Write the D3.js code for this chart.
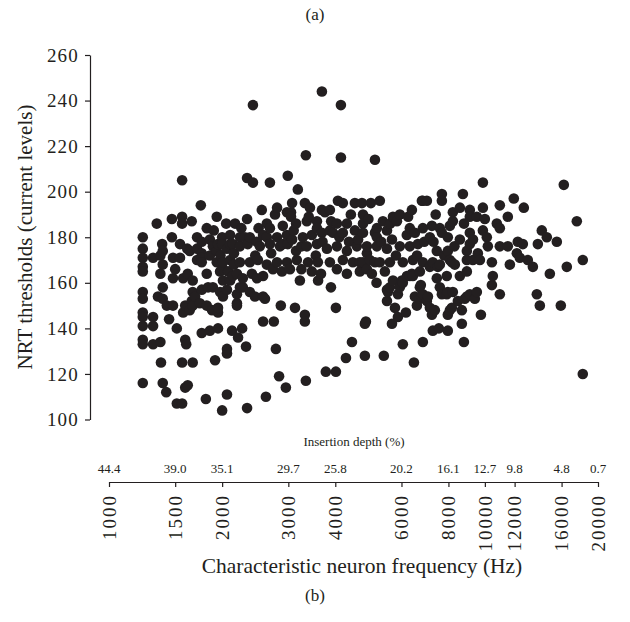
<!DOCTYPE html>
<html><head><meta charset="utf-8">
<script src="https://cdn.jsdelivr.net/npm/d3@7"></script>
<style>body{margin:0;background:#fff}</style>
</head><body>
<svg id="c" width="630" height="622"></svg>
<script>
const freqTicks = [1000,1500,2000,3000,4000,6000,8000,10000,12000,16000,20000];
const depthLabels = ["44.4","39.0","35.1","29.7","25.8","20.2","16.1","12.7","9.8","4.8","0.7"];
const yTicks = [100,120,140,160,180,200,220,240,260];
// [characteristic frequency (Hz), NRT threshold (current level)]
const points = [
[1230,180],[1230,175],[1230,171],[1230,167],[1230,165],[1230,156],[1230,153],[1230,147],[1230,145],[1230,141],[1230,135],[1230,133],[1230,116],
[1310,171],[1310,145],[1310,141],[1310,133],
[1340,186],[1350,154],[1370,164],[1370,172],[1370,134],[1375,125],[1385,177],
[1390,174],[1390,168],[1390,158],[1390,153],[1390,116],[1420,112],[1425,150],[1445,144],
[1470,188],[1470,180],[1480,150],[1480,162],[1480,171],[1500,166],[1515,140],[1515,107],
[1545,177],[1545,171],[1565,189],[1565,186],[1565,205],[1565,125],[1565,107],
[1575,162],[1575,147],[1595,135],[1595,114],[1595,150],[1605,133],[1615,175],[1620,164],[1620,115],
[1640,174],[1640,148],[1660,187],[1660,152],[1670,125],[1670,161],[1670,156],[1670,150],
[1695,154],[1715,180],[1715,175],[1715,170],[1745,151],[1755,194],
[1765,178],[1765,173],[1765,171],[1765,157],[1765,138],[1765,169],
[1810,109],[1820,184],[1820,164],[1820,150],[1835,158],
[1855,179],[1855,139],[1855,172],
[1880,148],[1890,176],[1890,158],[1900,183],[1915,126],[1935,189],[1935,174],[1935,169],
[1950,140],[1950,147],[1950,149],[1950,177],[1975,156],[1975,165],[1980,172],
[2000,104],[2000,180],[2000,177],[2010,154],[2010,166],[2010,169],[2010,161],
[2050,186],[2060,111],[2060,129],[2060,131],[2060,175],[2060,157],[2075,165],
[2100,161],[2100,181],[2100,177],[2100,170],
[2125,139],[2135,163],[2135,177],[2150,173],[2150,168],[2165,186],
[2190,155],[2190,151],[2190,150],[2190,164],[2205,136],
[2230,158],[2230,180],[2230,176],[2230,169],[2250,184],[2260,140],[2270,158],[2270,162],
[2300,180],[2315,132],[2330,105],[2330,206],[2330,188],[2340,177],
[2370,156],[2370,180],[2370,169],[2400,164],[2415,238],[2415,204],[2445,154],[2450,172],
[2475,178],[2475,162],[2490,170],[2500,184],[2520,176],[2550,192],
[2570,143],[2570,154],[2570,181],[2570,163],[2600,153],[2615,110],
[2630,186],[2630,180],[2630,168],[2680,204],[2680,184],[2680,177],[2700,173],[2730,166],[2745,143],
[2765,190],[2780,131],[2800,193],[2800,180],[2800,169],[2835,119],[2850,176],[2865,150],[2885,165],
[2900,185],[2905,177],[2955,114],[2975,191],[2975,181],[2975,169],[2990,207],[2990,177],[3030,166],
[3050,191],[3050,189],[3070,195],[3070,179],[3100,183],[3125,149],[3145,186],[3145,174],[3160,170],[3180,201],[3220,161],
[3250,176],[3250,166],[3280,180],[3320,195],[3320,146],[3320,143],[3340,216],[3340,117],[3360,187],[3360,176],[3385,169],
[3400,189],[3425,193],[3465,181],[3465,165],[3550,172],[3575,187],[3575,184],[3575,177],[3595,169],[3600,161],[3665,164],
[3685,244],[3685,192],[3685,182],[3700,178],[3755,191],[3775,121],[3800,175],
[3870,192],[3870,183],[3870,169],[3895,158],[3900,187],[3945,182],[4015,121],[4015,149],
[4040,186],[4040,176],[4040,166],[4065,196],[4100,180],[4140,238],[4140,215],
[4190,195],[4190,182],[4190,170],[4270,127],[4295,186],[4295,174],[4295,164],[4350,178],[4400,190],[4430,134],[4455,169],
[4510,195],[4510,183],[4565,176],[4600,179],[4650,165],[4650,169],[4710,195],
[4740,190],[4740,186],[4740,182],[4740,169],[4795,128],[4795,142],[4825,143],
[4855,173],[4855,176],[4855,166],[4900,188],[4945,170],[4975,195],[5005,164],
[5100,214],[5100,169],[5100,182],[5150,160],[5160,184],[5160,180],[5160,176],
[5255,196],[5255,169],[5300,178],[5355,187],[5385,128],[5420,165],
[5490,183],[5490,175],[5490,157],[5490,152],[5520,156],[5590,169],[5590,158],[5600,186],
[5660,179],[5660,142],[5695,189],[5695,161],[5765,149],[5800,172],[5835,187],[5870,155],[5870,145],
[5940,190],[5940,176],[5940,158],[6015,161],[6050,133],[6050,169],[6050,160],[6165,147],[6200,181],[6205,163],[6250,189],
[6315,184],[6315,176],[6315,163],[6395,192],[6395,164],[6435,170],[6435,163],[6475,125],
[6515,182],[6515,154],[6595,150],[6600,172],[6635,177],[6715,153],[6715,165],[6715,158],[6755,159],
[6800,196],[6800,154],[6840,196],[6840,184],[6840,169],[6840,134],[6840,155],[6900,178],
[7010,196],[7010,152],[7055,154],[7140,180],[7140,167],[7140,149],[7230,185],[7230,146],
[7270,169],[7270,139],[7300,178],[7360,148],[7400,190],[7450,174],[7450,162],[7500,167],[7545,140],
[7590,184],[7590,168],[7590,158],[7685,199],[7685,196],[7685,182],[7685,155],[7800,172],
[7920,163],[7920,155],[7970,180],[7970,174],[7970,139],[7970,146],[7970,156],
[8070,185],[8070,148],[8070,170],[8170,169],[8170,149],[8220,191],[8220,187],[8220,156],
[8300,176],[8320,168],[8475,152],[8580,193],[8580,179],[8580,163],[8685,142],[8685,148],
[8740,199],[8795,134],[8800,186],[8845,153],[8955,174],[8955,170],[8955,165],[8955,154],
[9120,192],[9120,189],[9120,182],[9120,177],[9120,155],[9290,170],[9300,179],[9405,153],
[9520,189],[9520,156],[9580,173],[9700,170],[9760,146],[9880,204],[9880,193],[9880,183],
[10000,188],[10120,180],[10185,176],[10440,169],[10440,159],[10500,163],[10760,186],
[10960,194],[10960,184],[10960,176],[10960,155],[11510,189],[11510,176],[11655,168],
[11940,197],[12165,173],[12235,178],[12390,171],[12620,177],[12695,193],[13010,170],[13420,167],
[13750,155],[13835,177],[14005,150],[14175,183],[14615,180],[14890,164],[15540,178],[15925,150],
[16220,203],[16520,167],[17565,187],[18220,170],[18220,120]
];

const ink = "#231f20";
const serif = "'Liberation Serif', 'DejaVu Serif', serif";
const svg = d3.select("#c").style("font-family", serif);

const x = d3.scaleLog().domain([1000, 20000]).range([109, 598]);
const y = d3.scaleLinear().domain([100, 260]).range([419.5, 55]);

// Y axis
const yAxis = svg.append("g").attr("transform", "translate(90,0)")
  .call(d3.axisLeft(y).tickValues(yTicks).tickSize(5).tickSizeOuter(0).tickPadding(6).tickFormat(d3.format("d")));
yAxis.selectAll("path,line").attr("stroke", ink).attr("stroke-width", 1.2);
yAxis.selectAll("text").attr("fill", ink).style("font-family", serif)
  .style("font-size", "19px").style("letter-spacing", "1.2px");

svg.append("text").attr("transform", "translate(25,237) rotate(-90)")
  .attr("text-anchor", "middle").attr("dy", "0.35em").attr("fill", ink)
  .style("font-size", "21px").text("NRT thresholds (current levels)");

// X axis
const xAxis = svg.append("g").attr("transform", "translate(0,482)")
  .call(d3.axisBottom(x).tickValues(freqTicks).tickSize(5).tickSizeOuter(0).tickFormat(""));
xAxis.selectAll("path,line").attr("stroke", ink).attr("stroke-width", 1.2);

svg.append("g").selectAll("text").data(freqTicks).join("text")
  .attr("transform", d => `translate(${x(d)},494) rotate(-90)`)
  .attr("text-anchor", "end").attr("dy", "0.35em").attr("fill", ink)
  .style("font-size", "19px").style("letter-spacing", "2px").text(d => d);

svg.append("g").selectAll("text").data(depthLabels).join("text")
  .attr("x", (d, i) => x(freqTicks[i])).attr("y", 473)
  .attr("text-anchor", "middle").attr("fill", ink)
  .style("font-size", "13px").text(d => d);

svg.append("text").attr("x", 354).attr("y", 446).attr("text-anchor", "middle")
  .attr("fill", ink).style("font-size", "13px").text("Insertion depth (%)");

svg.append("text").attr("x", 362).attr("y", 573).attr("text-anchor", "middle")
  .attr("fill", ink).style("font-size", "21.5px").text("Characteristic neuron frequency (Hz)");

svg.append("text").attr("x", 315).attr("y", 20).attr("text-anchor", "middle")
  .attr("fill", ink).style("font-size", "17px").text("(a)");
svg.append("text").attr("x", 315).attr("y", 601).attr("text-anchor", "middle")
  .attr("fill", ink).style("font-size", "17px").text("(b)");

// Points
svg.append("g").selectAll("circle").data(points).join("circle")
  .attr("cx", d => x(d[0])).attr("cy", d => y(d[1])).attr("r", 5.3).attr("fill", ink);
</script>
</body></html>
